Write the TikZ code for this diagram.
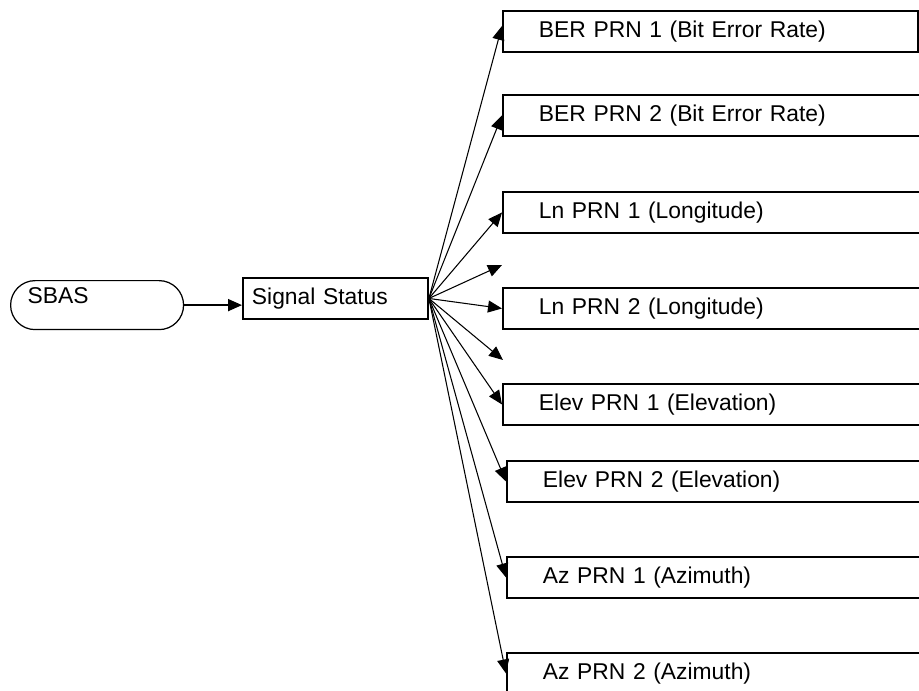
\documentclass[tikz,border=0pt]{standalone}
\usepackage{fontspec}
\setmainfont{Liberation Sans}
\usetikzlibrary{arrows.meta}

\tikzset{
        terminal/.style = {draw, line width=0.7pt, rounded corners=0.49cm, anchor=north west,
            minimum height=0.98cm, text width=2.78cm, align=left, inner xsep=0.34cm,
            inner ysep=0pt, text height=0.45cm, text depth=0.53cm},
        block/.style = {draw, line width=1.1pt, anchor=north west, minimum height=0.82cm,
            align=left, inner xsep=0.72cm, inner ysep=0pt},
        fan/.style = {-{Triangle[length=0.28cm, width=0.24cm]}, line width=0.6pt}
    }

\begin{document}
\begin{tikzpicture}[x=0.02cm, y=-0.02cm, font=\fontsize{13}{15}\selectfont]
            \useasboundingbox (0,0) rectangle (919,690);

            \node[terminal] (sbas) at (10,280) {SBAS};
            \node[block, text width=3.34cm, inner xsep=0.18cm, minimum height=0.82cm] (status) at (242,277) {Signal Status};
            \draw[fan, line width=1pt] (sbas.east) -- (sbas.east -| status.west);

            \foreach \n/\x/\y/\w/\t in {ber1/502/10/6.86/BER PRN 1 (Bit Error Rate),
                                       ber2/502/94/7.2/BER PRN 2 (Bit Error Rate),
                                       ln1/502/191/7.2/Ln PRN 1 (Longitude),
                                       ln2/502/287/7.2/Ln PRN 2 (Longitude),
                                       elev1/502/383/7.2/Elev PRN 1 (Elevation),
                                       elev2/506/460/7.2/Elev PRN 2 (Elevation),
                                       az1/506/556/7.2/Az PRN 1 (Azimuth),
                                       az2/506/652/7.2/Az PRN 2 (Azimuth)} {
                \node[block, text width=\w cm] (\n) at (\x,\y) {\t};
            };

            % loose arrow heads between the boxes
            \coordinate (loose1) at (502,265);
            \coordinate (loose2) at (503,360);

            \draw[fan] (status.east) -- ([yshift=0.11cm]ber1.west);
            \foreach \n in {ber2, ln1, loose1, ln2, loose2, elev1, elev2, az1, az2} {
                \draw[fan] (status.east) -- (\n.west);
            };

        \end{tikzpicture}
\end{document}
